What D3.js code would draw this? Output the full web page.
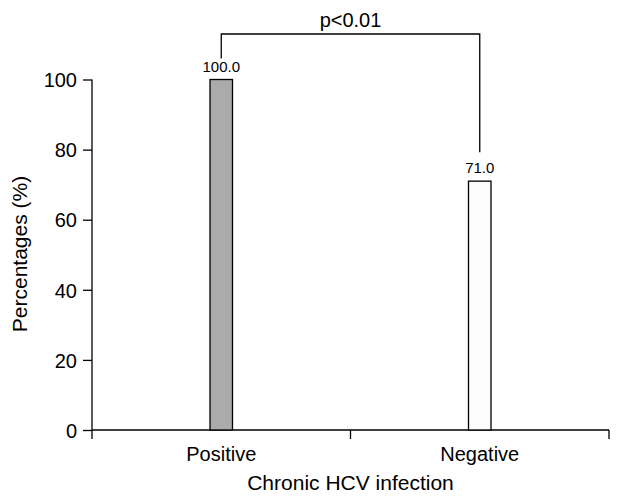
<!DOCTYPE html>
<html>
<head>
<meta charset="utf-8">
<script src="https://cdn.jsdelivr.net/npm/d3@7"></script>
<style>
  body { margin: 0; background: #fff; }
  text { font-family: Arial, "Liberation Sans", sans-serif; fill: #000; }
</style>
</head>
<body>
<div class="chart"></div>
<script>
(function () {
  'use strict';

  var categories = ['Positive', 'Negative'];
  var values = [100.0, 71.0];
  var fills = ['#ababab', '#fcfcfc'];
  var yTicks = [0, 20, 40, 60, 80, 100];
  var pLabel = 'p<0.01';

  var width = 617, height = 496;
  var left = 92, right = 609, top = 79.5, bottom = 430;

  var x = d3.scaleBand().domain(categories).range([left, right]).padding(0);
  var y = d3.scaleLinear().domain([0, 100]).range([bottom, top]);
  var barW = 22.5;

  var svg = d3.select('.chart')
      .append('svg')
      .attr('width', width)
      .attr('height', height);

  // y axis
  var yAxis = svg.append('g')
      .attr('transform', 'translate(' + left + ',0)')
      .call(d3.axisLeft(y).tickValues(yTicks).tickSize(9).tickPadding(6));
  yAxis.select('.domain').attr('stroke', '#000').attr('stroke-width', 1.3)
      .attr('d', 'M0,' + (y(0) + 9) + 'V' + y(100));
  yAxis.selectAll('.tick line').attr('stroke', '#000').attr('stroke-width', 1.3);
  yAxis.selectAll('.tick text').style('font-size', '20px').attr('fill', '#000')
      .attr('dy', '0.36em');

  // x axis
  var xAxis = svg.append('g')
      .attr('transform', 'translate(0,' + bottom + ')');
  xAxis.append('line')
      .attr('x1', left).attr('x2', right)
      .attr('stroke', '#000').attr('stroke-width', 1.3);
  var bounds = categories.map(function (c) { return x(c) + x.bandwidth(); });
  xAxis.selectAll('.xt')
      .data(bounds)
      .enter()
      .append('line')
      .attr('x1', function (d) { return d; })
      .attr('x2', function (d) { return d; })
      .attr('y1', 0).attr('y2', 9)
      .attr('stroke', '#000').attr('stroke-width', 1.3);
  xAxis.selectAll('.xl')
      .data(categories)
      .enter()
      .append('text')
      .attr('x', function (d) { return x(d) + x.bandwidth() / 2; })
      .attr('y', 31)
      .attr('text-anchor', 'middle')
      .style('font-size', '20px')
      .text(function (d) { return d; });

  // bars
  svg.selectAll('.bar')
      .data(values)
      .enter()
      .append('rect')
      .attr('class', 'bar')
      .attr('x', function (d, i) { return x(categories[i]) + x.bandwidth() / 2 - barW / 2; })
      .attr('width', barW)
      .attr('y', function (d) { return y(d); })
      .attr('height', function (d) { return y(0) - y(d); })
      .attr('fill', function (d, i) { return fills[i]; })
      .attr('stroke', '#000')
      .attr('stroke-width', 1.3);

  svg.selectAll('.val')
      .data(values)
      .enter()
      .append('text')
      .attr('x', function (d, i) { return x(categories[i]) + x.bandwidth() / 2; })
      .attr('y', function (d) { return y(d) - 8; })
      .attr('text-anchor', 'middle')
      .style('font-size', '15px')
      .text(function (d) { return d.toFixed(1); });

  // significance bracket
  var cx0 = x(categories[0]) + x.bandwidth() / 2;
  var cx1 = x(categories[1]) + x.bandwidth() / 2;
  var by = 34;
  svg.append('path')
      .attr('d', 'M' + cx0 + ',' + (y(values[0]) - 21) + 'V' + by +
                 'H' + cx1 + 'V' + (y(values[1]) - 29))
      .attr('fill', 'none')
      .attr('stroke', '#000')
      .attr('stroke-width', 1.3);
  svg.append('text')
      .attr('x', (cx0 + cx1) / 2)
      .attr('y', 27)
      .attr('text-anchor', 'middle')
      .style('font-size', '20px')
      .text(pLabel);

  // axis titles
  svg.append('text')
      .attr('x', (left + right) / 2)
      .attr('y', 490)
      .attr('text-anchor', 'middle')
      .style('font-size', '21px')
      .text('Chronic HCV infection');

  svg.append('text')
      .attr('transform', 'translate(27,254) rotate(-90)')
      .attr('text-anchor', 'middle')
      .style('font-size', '21px')
      .text('Percentages (%)');
}());
</script>
</body>
</html>
